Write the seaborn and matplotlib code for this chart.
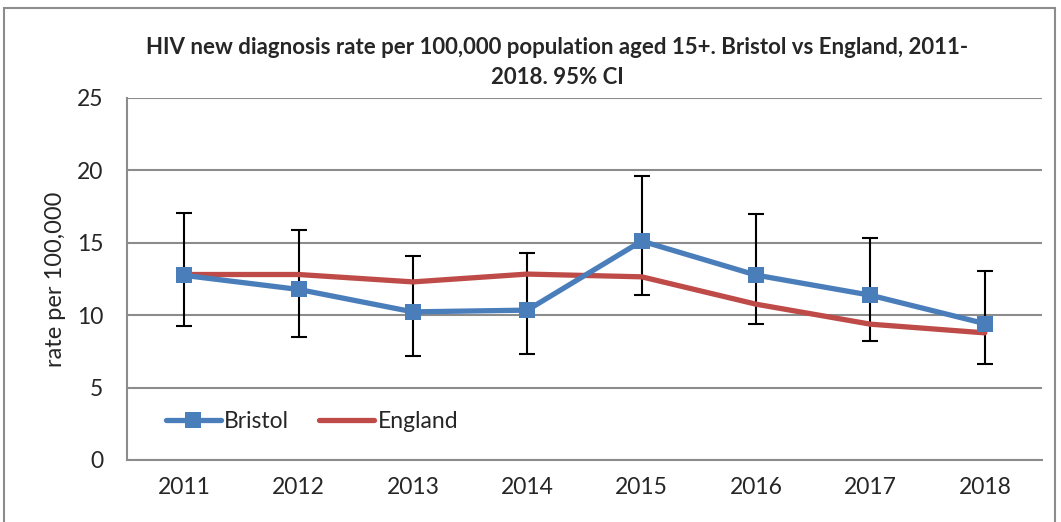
import numpy as np
import pandas as pd
import matplotlib
matplotlib.use("Agg")
import matplotlib.pyplot as plt
import seaborn as sns
from matplotlib.patches import Rectangle

years = ["2011", "2012", "2013", "2014", "2015", "2016", "2017", "2018"]
bristol = [12.75, 11.78, 10.23, 10.35, 15.12, 12.77, 11.38, 9.42]
bristol_lower = [9.26, 8.48, 7.21, 7.35, 11.38, 9.42, 8.22, 6.61]
bristol_upper = [17.03, 15.90, 14.10, 14.27, 19.63, 16.99, 15.30, 13.04]
england = [12.81, 12.81, 12.30, 12.84, 12.65, 10.76, 9.38, 8.78]

sns.set_style("white")
plt.rcParams['font.family'] = ['Lato', 'DejaVu Sans']

df = pd.DataFrame({"pos": np.arange(len(years)), "year": years,
                   "Bristol": bristol, "England": england})

fig = plt.figure(figsize=(10.61, 5.22), dpi=100)
ax = fig.add_axes([127/1061, 1 - 460/522, (1042-127)/1061, (460-98)/522])

# error bars first so lines sit on top
err = [np.array(bristol) - np.array(bristol_lower), np.array(bristol_upper) - np.array(bristol)]
ax.errorbar(df["pos"], df["Bristol"], yerr=err, fmt="none", ecolor="black",
            elinewidth=1.5, capsize=6, capthick=1.5, zorder=2)

sns.lineplot(data=df, x="pos", y="England", ax=ax, color="#BE4B48", lw=3.8,
             label="England", zorder=3)
sns.lineplot(data=df, x="pos", y="Bristol", ax=ax, color="#4A7EBB", lw=3.8,
             marker="s", markersize=11, markeredgewidth=0, label="Bristol", zorder=4)

ax.set_xlim(-0.5, len(years) - 0.5)
ax.set_ylim(0, 25)
ax.set_yticks([0, 5, 10, 15, 20, 25])
ax.yaxis.grid(True, color="#8c8c8c", lw=1.5)
ax.set_axisbelow(True)

# category ticks between categories, labels at centres
ax.set_xticks(np.arange(-0.5, len(years)), minor=False)
ax.set_xticklabels([""] * (len(years) + 1))
ax.set_xticks(np.arange(len(years)), minor=True)
ax.set_xticklabels(years, minor=True)
ax.tick_params(axis="x", which="major", length=7, width=1.5, color="#8c8c8c", direction="out")
ax.tick_params(axis="x", which="minor", length=0, pad=12, labelsize=16.5)
ax.tick_params(axis="y", length=7, width=1.5, color="#8c8c8c", direction="out", labelsize=16.5, pad=10)

for side in ["top", "right"]:
    ax.spines[side].set_visible(False)
for side in ["left", "bottom"]:
    ax.spines[side].set_color("#8c8c8c")
    ax.spines[side].set_linewidth(1.5)

ax.set_xlabel("")
ax.set_ylabel("rate per 100,000", fontsize=17, labelpad=8)

handles, labels = ax.get_legend_handles_labels()
order = [labels.index("Bristol"), labels.index("England")]
ax.legend([handles[i] for i in order], [labels[i] for i in order], loc="lower left",
          bbox_to_anchor=(0.02, 0.02), ncol=2, frameon=False, fontsize=16.5,
          handlelength=2.4, handletextpad=0.15, columnspacing=1.3)

fig.text(557/1061, 1 - 47/522, "HIV new diagnosis rate per 100,000 population aged 15+. Bristol vs England, 2011-",
         ha="center", va="center", fontsize=16, fontweight="bold")
fig.text(557/1061, 1 - 77/522, "2018. 95% CI", ha="center", va="center",
         fontsize=16, fontweight="bold")

fig.patches.append(Rectangle((4/1061, -0.01), 1051/1061, 1 - 8/522 + 0.01,
                             transform=fig.transFigure, fill=False,
                             edgecolor="#8c8c8c", lw=1.5))

fig.savefig("out.png", dpi=100)
